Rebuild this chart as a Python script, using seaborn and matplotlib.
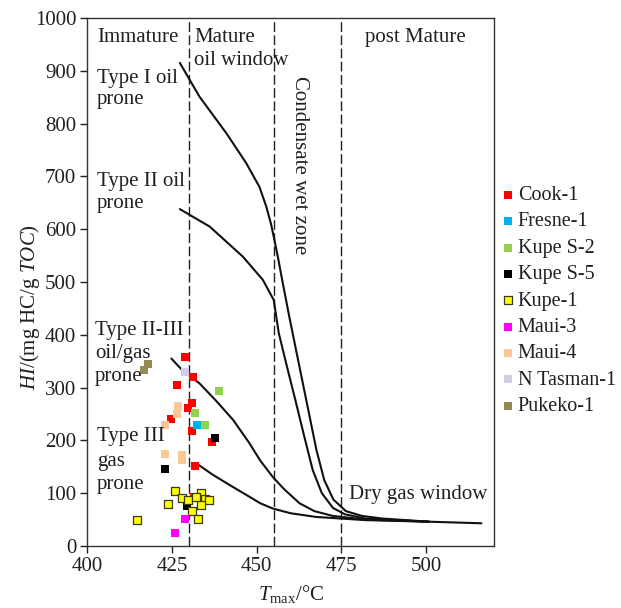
import matplotlib
matplotlib.use("Agg")
import matplotlib.pyplot as plt
import seaborn as sns
import pandas as pd

# ---------------- data ----------------
wells = ["Cook-1", "Fresne-1", "Kupe S-2", "Kupe S-5", "Kupe-1",
         "Maui-3", "Maui-4", "N Tasman-1", "Pukeko-1"]
well_colors = ["#FF0000", "#00B0F0", "#92D050", "#000000", "#FFFF00",
               "#FF00FF", "#FAC795", "#D5CDE6", "#948A54"]

cook1_T = [428.8, 431.2, 426.6, 430.9, 429.7, 424.8, 430.9, 436.9, 431.8, 431.5]
cook1_HI = [357, 321, 304, 270, 262, 240, 218, 196, 151, 93]
fresne1_T = [432.5]
fresne1_HI = [229]
kupes2_T = [438.8, 431.7, 434.6]
kupes2_HI = [294, 251, 230]
kupes5_T = [437.6, 422.9, 429.5]
kupes5_HI = [204, 145, 76]
kupe1_T = [414.8, 423.8, 425.8, 427.9, 429.7, 430.9, 432.6, 433.6, 434.6, 435.9, 433.6, 432.2]
kupe1_HI = [49, 79, 104, 90, 87, 66, 51, 100, 89, 87, 78, 93]
maui3_T = [428.7, 425.8]
maui3_HI = [51, 24]
maui4_T = [426.8, 426.6, 422.9, 422.9, 427.9, 427.9]
maui4_HI = [265, 250, 230, 174, 172, 162]
ntasman1_T = [428.7]
ntasman1_HI = [329]
pukeko1_T = [417.8, 416.8]
pukeko1_HI = [344, 333]

well_T = [cook1_T, fresne1_T, kupes2_T, kupes5_T, kupe1_T,
          maui3_T, maui4_T, ntasman1_T, pukeko1_T]
well_HI = [cook1_HI, fresne1_HI, kupes2_HI, kupes5_HI, kupe1_HI,
           maui3_HI, maui4_HI, ntasman1_HI, pukeko1_HI]

# kerogen-type evolution curves
type1_T = [427.3, 433.1, 441.0, 446.9, 450.8, 452.8, 454.2, 455.2, 456.3, 457.7, 459.6,
           461.6, 463.6, 465.6, 467.6, 469.9, 472.6, 476.3, 481.0, 487.0, 500.8, 516.3]
type1_HI = [915, 851, 782, 725, 680, 643, 610, 580, 545, 497, 434,
            371, 308, 245, 182, 125, 88, 66, 57, 52, 46, 43]
type2_T = [427.3, 436.1, 445.9, 451.8, 455.0, 456.5, 458.9, 461.4, 463.8,
           466.5, 469.2, 472.5, 476.0, 482.0, 500.8]
type2_HI = [638, 605, 548, 504, 466, 403, 340, 276, 213,
            144, 100, 72, 60, 52, 46]
type23_T = [424.8, 428.0, 433.1, 438.0, 443.0, 447.8, 451.0, 454.7, 458.0,
            462.6, 467.0, 472.4, 482.0, 500.8]
type23_HI = [355, 333, 308, 275, 239, 195, 162, 131, 108, 81, 66, 57, 50, 46]
type3_T = [432.5, 437.0, 442.9, 447.9, 451.0, 454.7, 460.0, 467.5, 482.0, 500.8]
type3_HI = [155, 135, 112, 93, 81, 71, 62, 55, 49, 46]

zone_bounds = [430, 455, 475]

x_ticks = [400, 425, 450, 475, 500]
y_ticks = [0, 100, 200, 300, 400, 500, 600, 700, 800, 900, 1000]

# ---------------- style ----------------
sns.set_style("ticks")
plt.rcParams["font.family"] = ["Liberation Serif", "DejaVu Serif"]
plt.rcParams["mathtext.fontset"] = "custom"
plt.rcParams["mathtext.rm"] = "Liberation Serif"
plt.rcParams["mathtext.it"] = "Liberation Serif:italic"
INK = "#231F20"

fig = plt.figure(figsize=(6.21, 6.08), dpi=100)
ax = fig.add_axes([0.1406, 0.1020, 0.6549, 0.8684])

# zone boundaries
for xb in zone_bounds:
    ax.axvline(xb, color=INK, lw=1.0, dashes=(7, 2.5), zorder=1)

# curves
for cT, cH in [(type1_T, type1_HI), (type2_T, type2_HI),
               (type23_T, type23_HI), (type3_T, type3_HI)]:
    sns.lineplot(x=cT, y=cH, ax=ax, color="#111111", lw=1.5, sort=False,
                 estimator=None, zorder=2)

# scatter
for name, col, T, HI in zip(wells, well_colors, well_T, well_HI):
    df = pd.DataFrame({"Tmax": T, "HI": HI})
    if name == "Kupe-1":
        ec, lw = "#3a3a1a", 0.9
    else:
        ec, lw = col, 0
    sns.scatterplot(data=df, x="Tmax", y="HI", ax=ax, color=col, marker="s",
                    s=36, edgecolor=ec, linewidth=lw, label=name, zorder=3)

ax.set_xlim(400, 520)
ax.set_ylim(0, 1000)
ax.set_xticks(x_ticks)
ax.set_yticks(y_ticks)
ax.tick_params(axis="both", direction="out", length=5, width=1.0,
               labelsize=15, colors=INK, pad=3)
for sp in ax.spines.values():
    sp.set_visible(True)
    sp.set_color("#333333")
    sp.set_linewidth(1.0)

ax.set_xlabel(r"$T_{\mathrm{max}}$/°C", fontsize=15, color=INK)
ax.set_ylabel(r"$\mathit{HI}$/(mg HC/g $\mathit{TOC}$)", fontsize=15, color=INK)
ax.xaxis.set_label_coords(0.5, -0.07)
ax.yaxis.set_label_coords(-0.112, 0.453)

fs = 15
def t(x, y, s, **kw):
    ax.text(x, y, s, fontsize=fs, color=INK, va="center", ha="left", **kw)

t(402.8, 964, "Immature")
t(431.5, 964, "Mature")
t(431.5, 920, "oil window")
ax.text(496.9, 964, "post Mature", fontsize=fs, color=INK, va="center", ha="center")
t(402.8, 886, "Type I oil")
t(402.8, 845, "prone")
t(402.8, 691, "Type II oil")
t(402.8, 648, "prone")
t(402.3, 409, "Type II-III")
t(402.3, 365, "oil/gas")
t(402.3, 321, "prone")
t(402.8, 207, "Type III")
t(402.8, 160, "gas")
t(402.8, 116, "prone")
ax.text(462.6, 721, "Condensate wet zone", fontsize=fs, color=INK,
        rotation=270, va="center", ha="center")
t(477.3, 97, "Dry gas window")

handles, labels = ax.get_legend_handles_labels()
if ax.get_legend() is not None:
    ax.get_legend().remove()
fig.legend(handles, labels, loc="upper left", bbox_to_anchor=(0.808, 0.694),
           bbox_transform=fig.transFigure, frameon=False, borderpad=0,
           borderaxespad=0, handlelength=0.6, handletextpad=0.2,
           labelspacing=0.36, fontsize=14.5, markerscale=0.85, labelcolor=INK)

fig.savefig("out.png", dpi=100)
